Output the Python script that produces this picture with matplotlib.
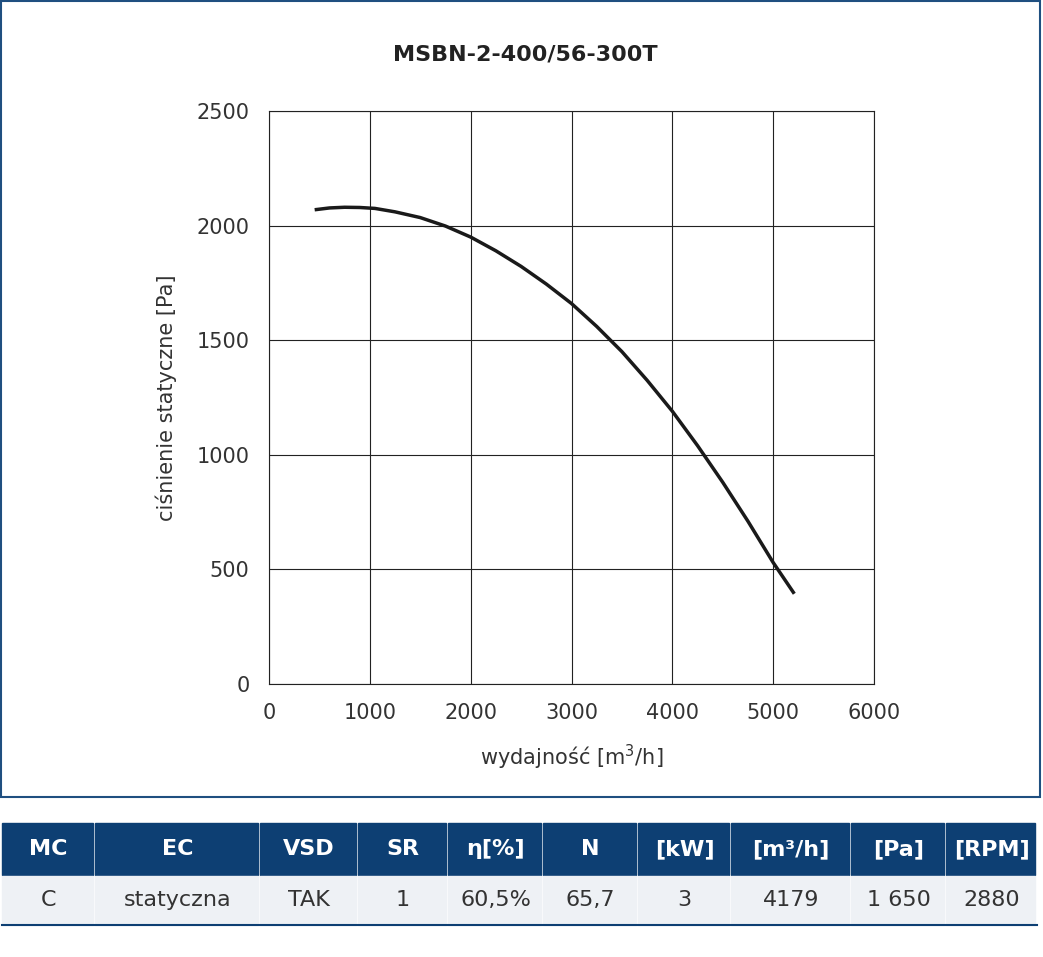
import matplotlib.pyplot as plt
from matplotlib.patches import Rectangle

flow = [470, 600, 750, 900, 1050, 1250, 1500, 1750, 2000, 2250, 2500, 2750, 3000, 3250, 3500,
        3750, 4000, 4250, 4500, 4750, 5000, 5200]
pressure = [2070, 2077, 2080, 2079, 2075, 2060, 2035, 1998, 1950, 1890, 1822, 1745, 1660, 1560, 1450,
            1325, 1190, 1040, 880, 710, 530, 400]

headers = ['MC', 'EC', 'VSD', 'SR', 'η[%]', 'N', '[kW]', '[m³/h]', '[Pa]', '[RPM]']
values = ['C', 'statyczna', 'TAK', '1', '60,5%', '65,7', '3', '4179', '1 650', '2880']
col_edges = [2, 95, 260, 358, 448, 543, 638, 731, 851, 946, 1037]

W, H = 1043, 957
fig = plt.figure(figsize=(W / 100, H / 100), dpi=100)
blue = '#0d3f73'
txt = '#333333'

# frame around chart
fig.patches.append(Rectangle((1 / W, 1 - 797 / H), 1039 / W, 796 / H, transform=fig.transFigure,
                             fill=False, edgecolor='#1f4f80', linewidth=1.5))

ax = fig.add_axes([269 / W, 1 - 684 / H, (874 - 269) / W, (684 - 111) / H])
ax.plot(flow, pressure, color='#1a1a1a', linewidth=2.5, solid_joinstyle='round')
ax.set_xlim(0, 6000)
ax.set_ylim(0, 2500)
ax.set_xticks(range(0, 6001, 1000))
ax.set_yticks(range(0, 2501, 500))
ax.grid(True, color='#222222', linewidth=0.8)
for s in ax.spines.values():
    s.set_color('#222222')
    s.set_linewidth(0.8)
ax.tick_params(length=0, labelsize=15, colors=txt, pad=14)
ax.set_xlabel('wydajność [m$^3$/h]', fontsize=15, color=txt, labelpad=14)
ax.set_ylabel('ciśnienie statyczne [Pa]', fontsize=15, color=txt, labelpad=14)
fig.text(525 / W, 1 - 55 / H, 'MSBN-2-400/56-300T', ha='center', va='center',
         fontsize=16, fontweight='bold', color='#222222')

# table
top, mid, bot = 823, 875, 925
for i in range(len(headers)):
    x0, x1 = col_edges[i], col_edges[i + 1]
    fig.patches.append(Rectangle((x0 / W, 1 - mid / H), (x1 - x0 - 2) / W, (mid - top) / H,
                                 transform=fig.transFigure, color=blue))
    fig.patches.append(Rectangle((x0 / W, 1 - bot / H), (x1 - x0 - 2) / W, (bot - mid - 1) / H,
                                 transform=fig.transFigure, color='#eef1f5'))
    cx = (x0 + x1) / 2 / W
    fig.text(cx, 1 - (top + mid) / 2 / H, headers[i], ha='center', va='center',
             fontsize=16, fontweight='bold', color='white')
    fig.text(cx, 1 - (mid + bot) / 2 / H, values[i], ha='center', va='center',
             fontsize=16, color=txt)
fig.lines.append(plt.Line2D([2 / W, 1037 / W], [1 - bot / H] * 2, transform=fig.transFigure,
                            color=blue, linewidth=1.5))

fig.savefig('out.png', dpi=100, facecolor='white')
